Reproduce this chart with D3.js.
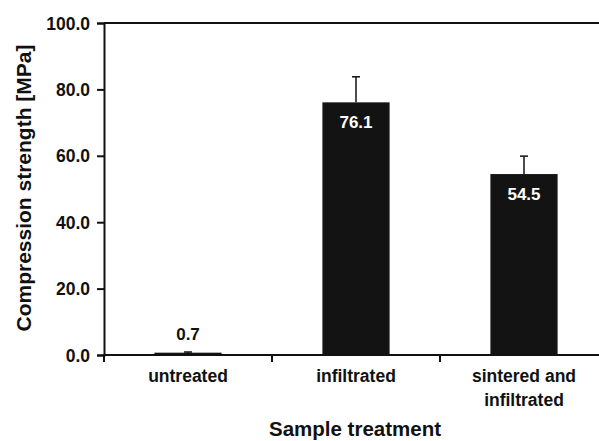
<!DOCTYPE html>
<html>
<head>
<meta charset="utf-8">
<script src="https://cdn.jsdelivr.net/npm/d3@7"></script>
<style>
  body { margin: 0; background: #fff; }
  svg text { font-family: "Liberation Sans", Arial, sans-serif; font-weight: bold; }
</style>
</head>
<body>
<div id="chart"></div>
<script>
// --- data ---
const categories = [["untreated"], ["infiltrated"], ["sintered and", "infiltrated"]];
const strength = [0.7, 76.1, 54.5];
const errPlus = [0.2, 7.7, 5.4];
const yTicks = [0, 20, 40, 60, 80, 100];

const W = 599, H = 441;
const plotL = 104, plotR = 608, plotT = 23, plotB = 355;

const svg = d3.select("#chart").append("svg")
  .attr("width", W).attr("height", H);

const keys = categories.map(c => c.join(" "));

const x = d3.scaleBand()
  .domain(keys)
  .range([plotL, plotR])
  .paddingInner(0.6)
  .paddingOuter(0.3);

const y = d3.scaleLinear()
  .domain([0, 100])
  .range([plotB, plotT]);

// top frame line
svg.append("line")
  .attr("x1", plotL).attr("x2", W)
  .attr("y1", y(100)).attr("y2", y(100))
  .attr("stroke", "#111").attr("stroke-width", 2);

// bars
svg.selectAll(".bar")
  .data(strength)
  .join("rect")
  .attr("class", "bar")
  .attr("x", (d, i) => x(keys[i]))
  .attr("y", d => y(d))
  .attr("width", x.bandwidth())
  .attr("height", d => y(0) - y(d))
  .attr("fill", "#131313");

// error bars (plus only)
const eb = svg.selectAll(".err")
  .data(strength)
  .join("g")
  .attr("class", "err")
  .attr("transform", (d, i) => `translate(${x(keys[i]) + x.bandwidth() / 2},0)`);

eb.append("line")
  .attr("y1", d => y(d))
  .attr("y2", (d, i) => y(d + errPlus[i]))
  .attr("stroke", "#111").attr("stroke-width", 1.5);

eb.append("line")
  .attr("x1", -4).attr("x2", 4)
  .attr("y1", (d, i) => y(d + errPlus[i]))
  .attr("y2", (d, i) => y(d + errPlus[i]))
  .attr("stroke", "#111").attr("stroke-width", 1.5);

// value labels: inside the bar when tall enough, above otherwise
svg.selectAll(".val")
  .data(strength)
  .join("text")
  .attr("class", "val")
  .attr("x", (d, i) => x(keys[i]) + x.bandwidth() / 2)
  .attr("y", d => (y(0) - y(d) > 40 ? y(d) + 26 : y(d) - 13))
  .attr("text-anchor", "middle")
  .attr("fill", d => (y(0) - y(d) > 40 ? "#fff" : "#111"))
  .style("font-size", "17px")
  .text(d => d.toFixed(1));

// y axis
const yAxis = svg.append("g")
  .attr("transform", `translate(${plotL},0)`)
  .call(d3.axisLeft(y).tickValues(yTicks).tickFormat(d3.format(".1f")).tickSize(7).tickPadding(7));
yAxis.select(".domain").attr("stroke", "#111").attr("stroke-width", 2);
yAxis.selectAll(".tick line").attr("stroke", "#111").attr("stroke-width", 2);
yAxis.selectAll("text")
  .style("font-size", "17.5px")
  .attr("fill", "#111")
  .attr("dy", "0.35em");

// x axis line
svg.append("line")
  .attr("x1", plotL - 1).attr("x2", W)
  .attr("y1", y(0)).attr("y2", y(0))
  .attr("stroke", "#111").attr("stroke-width", 2);

// x tick marks at category boundaries
svg.selectAll(".xtick")
  .data(keys)
  .join("line")
  .attr("class", "xtick")
  .attr("x1", d => x(d) - x.step() * x.paddingOuter())
  .attr("x2", d => x(d) - x.step() * x.paddingOuter())
  .attr("y1", y(0)).attr("y2", y(0) + 7)
  .attr("stroke", "#111").attr("stroke-width", 2);

// x category labels
const xl = svg.selectAll(".xlab")
  .data(categories)
  .join("text")
  .attr("class", "xlab")
  .attr("x", (d, i) => x(keys[i]) + x.bandwidth() / 2)
  .attr("y", 382)
  .attr("text-anchor", "middle")
  .attr("fill", "#111")
  .style("font-size", "17.5px");
xl.selectAll("tspan")
  .data(d => d)
  .join("tspan")
  .attr("x", function () { return this.parentNode.getAttribute("x"); })
  .attr("dy", (d, i) => (i === 0 ? 0 : 24))
  .text(d => d);

// axis titles
svg.append("text")
  .attr("x", 355)
  .attr("y", 436)
  .attr("text-anchor", "middle")
  .attr("fill", "#111")
  .style("font-size", "20.5px")
  .text("Sample treatment");

svg.append("text")
  .attr("transform", `translate(31,${(plotT + plotB) / 2 - 1}) rotate(-90)`)
  .attr("text-anchor", "middle")
  .attr("fill", "#111")
  .style("font-size", "21px")
  .text("Compression strength [MPa]");
</script>
</body>
</html>
